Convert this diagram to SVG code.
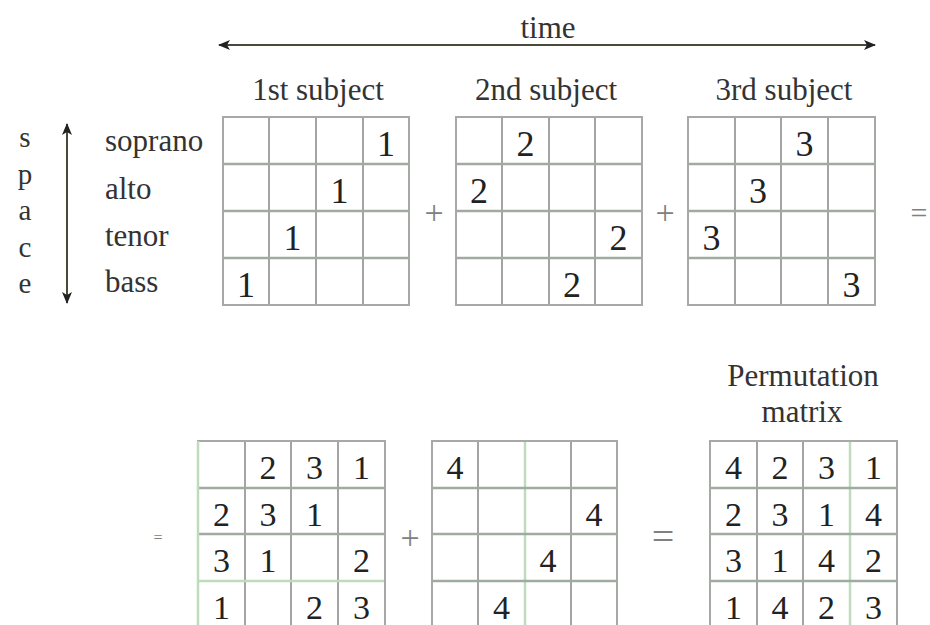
<svg xmlns="http://www.w3.org/2000/svg" width="930" height="625" viewBox="0 0 930 625">
<style>
text{font-family:"Liberation Serif","Times New Roman",serif}
.bd{fill:none;stroke:#a8a8a8;stroke-width:2}
.v{stroke:#a4a4a4;stroke-width:2}
.h{stroke:#9eab9e;stroke-width:2.5}
.gr{stroke:#bcdcbc;stroke-width:2.5}
.num{font-size:36px;fill:#222;text-anchor:middle}
.nb{font-size:34px}
.lbl{font-size:31px;fill:#333}
.sp{font-size:29px}
.mid{text-anchor:middle}
.op{fill:#808080;text-anchor:middle}
.ar{stroke:#4a4a3a;stroke-width:2;fill:none}
</style>
<defs>
<marker id="ah" viewBox="0 0 12 10" refX="11" refY="5" markerWidth="12" markerHeight="10" markerUnits="userSpaceOnUse" orient="auto-start-reverse">
<path d="M0,0 L12,5 L0,10 L3,5 Z" fill="#222"/>
</marker>
</defs>
<rect width="930" height="625" fill="#fff"/>

<g id="connectors">
<line class="ar" x1="219" y1="45" x2="875" y2="45" marker-start="url(#ah)" marker-end="url(#ah)"/>
<line class="ar" x1="67" y1="124" x2="67" y2="303" marker-start="url(#ah)" marker-end="url(#ah)"/>
</g>

<g id="time-label"><text class="lbl mid" x="548" y="38">time</text></g>

<g id="space-label" class="lbl sp">
<text class="mid" x="25" y="147">s</text>
<text class="mid" x="25" y="184">p</text>
<text class="mid" x="25" y="220">a</text>
<text class="mid" x="25" y="257">c</text>
<text class="mid" x="25" y="293">e</text>
</g>

<g id="voices" class="lbl">
<text x="105" y="151">soprano</text>
<text x="105" y="199">alto</text>
<text x="105" y="246">tenor</text>
<text x="105" y="292">bass</text>
</g>

<g id="subject1">
<text class="lbl mid" x="318" y="100">1st subject</text>
<path class="v" d="M269,117V305M316,117V305M363,117V305"/>
<path class="h" d="M223,164H409M223,211H409M223,258H409"/>
<rect class="bd" x="223" y="117" width="186" height="188"/>
<text class="num" x="386" y="156">1</text>
<text class="num" x="339.5" y="203">1</text>
<text class="num" x="292.5" y="250">1</text>
<text class="num" x="246" y="297">1</text>
</g>

<g id="subject2">
<text class="lbl mid" x="546" y="100">2nd subject</text>
<path class="v" d="M502,117V305M549,117V305M595,117V305"/>
<path class="h" d="M456,164H642M456,211H642M456,258H642"/>
<rect class="bd" x="456" y="117" width="186" height="188"/>
<text class="num" x="525.5" y="156">2</text>
<text class="num" x="479" y="203">2</text>
<text class="num" x="618.5" y="250">2</text>
<text class="num" x="572" y="297">2</text>
</g>

<g id="subject3">
<text class="lbl mid" x="784" y="100">3rd subject</text>
<path class="v" d="M735,117V305M781,117V305M828,117V305"/>
<path class="h" d="M688,164H875M688,211H875M688,258H875"/>
<rect class="bd" x="688" y="117" width="187" height="188"/>
<text class="num" x="804.5" y="156">3</text>
<text class="num" x="758" y="203">3</text>
<text class="num" x="711.5" y="250">3</text>
<text class="num" x="851.5" y="297">3</text>
</g>

<g id="ops-top">
<text class="op" x="434" y="224" style="font-size:34px">+</text>
<text class="op" x="665" y="224" style="font-size:34px">+</text>
<text class="op" x="919" y="223" style="font-size:30px">=</text>
</g>

<g id="sum123">
<path class="v" d="M245,441V628M291,441V628M338,441V628"/>
<path class="h" d="M198,488H385M198,534H385"/>
<path class="gr" d="M198,581H385"/>
<path class="bd" d="M198,628V441H385V628"/>
<path class="gr" d="M198,441V628"/>
<g class="num nb">
<text x="268" y="479">2</text><text x="314.5" y="479">3</text><text x="361.5" y="479">1</text>
<text x="221.5" y="526">2</text><text x="268" y="526">3</text><text x="314.5" y="526">1</text>
<text x="221.5" y="572">3</text><text x="268" y="572">1</text><text x="361.5" y="572">2</text>
<text x="221.5" y="619">1</text><text x="314.5" y="619">2</text><text x="361.5" y="619">3</text>
</g>
</g>

<g id="subject4">
<path class="v" d="M478,441V628M571,441V628"/>
<path class="gr" d="M525,441V628"/>
<path class="h" d="M432,488H617M432,534H617M432,581H617"/>
<path class="bd" d="M432,628V441H617V628"/>
<g class="num nb">
<text x="455" y="479">4</text>
<text x="594" y="526">4</text>
<text x="548" y="572">4</text>
<text x="501.5" y="619">4</text>
</g>
</g>

<g id="permutation">
<text class="lbl mid" x="803" y="386">Permutation</text>
<text class="lbl mid" x="802" y="422">matrix</text>
<path class="v" d="M757,441V628M803,441V628"/>
<path class="gr" d="M850,441V628"/>
<path class="h" d="M710,488H897M710,534H897M710,581H897"/>
<path class="bd" d="M710,628V441H897V628"/>
<g class="num nb">
<text x="733.5" y="479">4</text><text x="780" y="479">2</text><text x="826.5" y="479">3</text><text x="873.5" y="479">1</text>
<text x="733.5" y="526">2</text><text x="780" y="526">3</text><text x="826.5" y="526">1</text><text x="873.5" y="526">4</text>
<text x="733.5" y="572">3</text><text x="780" y="572">1</text><text x="826.5" y="572">4</text><text x="873.5" y="572">2</text>
<text x="733.5" y="619">1</text><text x="780" y="619">4</text><text x="826.5" y="619">2</text><text x="873.5" y="619">3</text>
</g>
</g>

<g id="ops-bottom">
<text class="op" x="158" y="543" style="font-size:16px">=</text>
<text class="op" x="410" y="549" style="font-size:34px">+</text>
<text class="op" x="663" y="550" style="font-size:40px">=</text>
</g>
</svg>
